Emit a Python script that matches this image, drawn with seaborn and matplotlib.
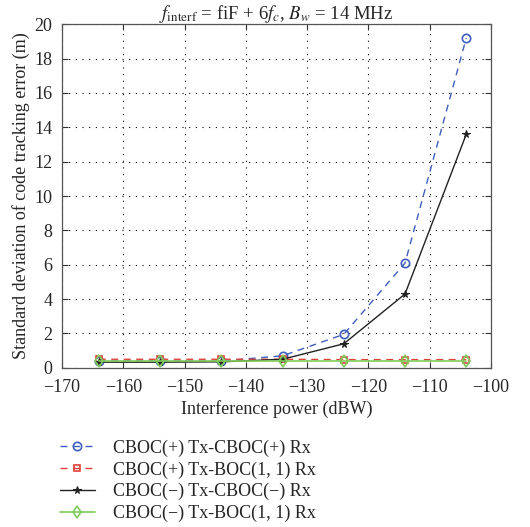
import numpy as np
import pandas as pd
import matplotlib
matplotlib.use('Agg')
import matplotlib.pyplot as plt
import seaborn as sns

# interference power (dBW)
power = [-164, -154, -144, -134, -124, -114, -104]

# std of code tracking error (m)
cboc_p_cboc_p = [0.40, 0.40, 0.40, 0.70, 1.95, 6.10, 19.2]
cboc_p_boc = [0.50, 0.50, 0.50, 0.50, 0.48, 0.48, 0.48]
cboc_m_cboc_m = [0.33, 0.33, 0.35, 0.50, 1.40, 4.30, 13.6]
cboc_m_boc = [0.42, 0.42, 0.42, 0.42, 0.42, 0.42, 0.42]

labels = ['CBOC(+) Tx-CBOC(+) Rx', 'CBOC(+) Tx-BOC(1, 1) Rx',
          'CBOC(\u2212) Tx-CBOC(\u2212) Rx', 'CBOC(\u2212) Tx-BOC(1, 1) Rx']

sns.set_style('ticks')
plt.rcParams['font.family'] = ['Liberation Serif', 'DejaVu Serif']
plt.rcParams['mathtext.fontset'] = 'stix'

fig = plt.figure(figsize=(5.3, 5.27), dpi=100)
ax = fig.add_axes([0.117, 0.302, 0.809, 0.652])

colors = ['#3f5fbf', '#e0403a', '#222222', '#80cc5a']
styles = [
    dict(linestyle=(0, (5, 4)), marker='o', markersize=6, markerfacecolor='none', markeredgewidth=1.2, lw=1.0),
    dict(linestyle=(0, (5, 4)), marker='s', markersize=5, markerfacecolor='none', markeredgewidth=1.2, lw=1.0),
    dict(linestyle='-', marker='*', markersize=5.5, markerfacecolor='#222222', markeredgewidth=0.8, lw=1.0),
    dict(linestyle='-', marker='d', markersize=6, markerfacecolor='none', markeredgewidth=1.2, lw=1.2),
]
series = [cboc_p_cboc_p, cboc_p_boc, cboc_m_cboc_m, cboc_m_boc]
for y, lab, c, st in zip(series, labels, colors, styles):
    sns.lineplot(x=power, y=y, ax=ax, label=lab, color=c, markeredgecolor=c, **st)
ax.get_legend().remove()

ax.set_xlim(-170, -100)
ax.set_ylim(0, 20)
ax.set_xticks(np.arange(-170, -99, 10))
ax.set_yticks(np.arange(0, 21, 2))
ax.set_xticklabels([f'\u2212{abs(v)}' for v in range(-170, -99, 10)])
ax.grid(True, color='black', linestyle=(0, (1, 5)), linewidth=0.8)
ax.tick_params(direction='in', top=True, right=True, labelsize=13, length=4, color='#333333')
ax.tick_params(axis='x', pad=8)
ax.tick_params(axis='y', pad=7)
for s in ax.spines.values():
    s.set_color('#555555')
    s.set_linewidth(0.9)

ax.set_xlabel('Interference power (dBW)', fontsize=13, labelpad=3)
ax.set_ylabel('Standard deviation of code tracking error (m)', fontsize=13, labelpad=3)
ax.set_title(r'$f_{\mathrm{interf}}$ = fiF + 6$f_c$, $B_w$ = 14 MHz', fontsize=13.5, pad=4)

h, l = ax.get_legend_handles_labels()
fig.legend(h, l, loc='upper left', bbox_to_anchor=(0.1, 0.18), frameon=False,
           fontsize=13, handlelength=1.9, handletextpad=1.0, labelspacing=0.25, borderaxespad=0)

fig.savefig('out.png', dpi=100)
